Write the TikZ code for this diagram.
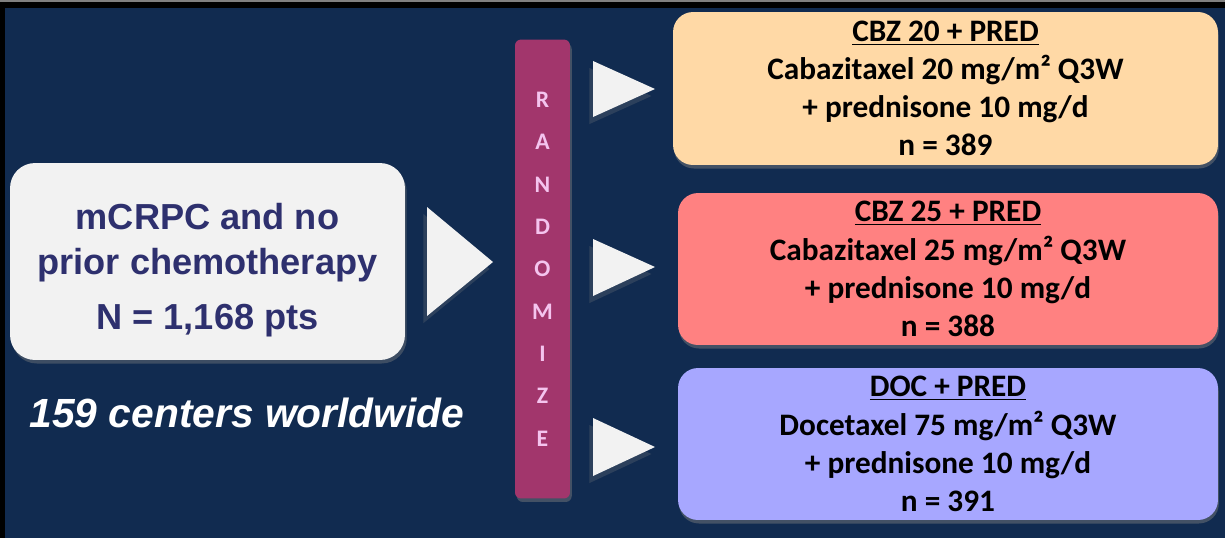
\documentclass[tikz,border=0pt]{standalone}
\usepackage{fontspec}
\setmainfont{Liberation Sans}
\newfontfamily\calib{Carlito}
\usetikzlibrary{shadows}

\definecolor{navy}{HTML}{112B50}
\definecolor{startfill}{HTML}{F2F2F2}
\definecolor{starttext}{HTML}{2E306E}
\definecolor{barfill}{HTML}{A2366C}
\definecolor{barletter}{HTML}{F4C4EE}
\definecolor{armone}{HTML}{FFD9A6}
\definecolor{armtwo}{HTML}{FF8181}
\definecolor{armthree}{HTML}{A7A7FF}

\tikzset{
  armbox/.style={rounded corners=0.4cm, minimum width=10.8cm, minimum height=3.04cm,
    align=center, font={\calib\bfseries\fontsize{17.8}{21.7}\selectfont},
    drop shadow={opacity=0.45, shadow xshift=0.5pt, shadow yshift=-2pt}},
  pointer/.style={fill=startfill,
    drop shadow={opacity=0.25, shadow xshift=-2pt, shadow yshift=-4pt}},
}

\begin{document}
\begin{tikzpicture}[x=0.02cm, y=-0.02cm]
    \useasboundingbox (0,0) rectangle (1225,538);
    \fill[black] (0,0) rectangle (1225,538);
    \fill[gray] (0,0) rectangle (1225,1.5);
    \fill[navy] (5,8) rectangle (1225,538);

    % study population
    \node[fill=startfill, rounded corners=0.5cm, minimum width=7.9cm, minimum height=3.94cm,
      drop shadow={opacity=0.4, shadow xshift=1pt, shadow yshift=-2pt}]
      (start) at (207.5,261.5) {};
    \node[align=center, text=starttext, font=\bfseries\fontsize{20.6}{25.6}\selectfont]
      (startlabel) at (207.5,270) {mCRPC and no\\prior chemotherapy\\[6pt]N = 1,168 pts};
    \node[text=white, font=\bfseries\itshape\fontsize{23.2}{28}\selectfont]
      (centers) at (247,413) {159 centers worldwide};

    % randomisation bar
    \node[fill=barfill, rounded corners=0.12cm, minimum width=1.1cm, minimum height=9.18cm,
      align=center, text=barletter, font={\calib\bfseries\fontsize{13.5}{24.1}\selectfont},
      drop shadow={opacity=0.45, shadow xshift=1pt, shadow yshift=-2pt}]
      (rand) at (542.5,269) {R\\A\\N\\D\\O\\M\\I\\Z\\E};

    % triangles
    \fill[pointer] (427,207) -- (493,262) -- (427,316) -- cycle;
    \fill[pointer] (593,61) -- (655,89) -- (593,117) -- cycle;
    \fill[pointer] (593,239) -- (655,267) -- (593,296) -- cycle;
    \fill[pointer] (593,418) -- (655,447) -- (593,476) -- cycle;

    % treatment arms
    \node[armbox, fill=armone, minimum width=10.9cm, minimum height=3.06cm] (arm1) at (945.5,88.5)
      {\underline{CBZ 20 + PRED}\\Cabazitaxel 20 mg/m² Q3W\\+ prednisone 10 mg/d\\n = 389};
    \node[armbox, fill=armtwo] (arm2) at (948,269)
      {\underline{CBZ 25 + PRED}\\Cabazitaxel 25 mg/m² Q3W\\+ prednisone 10 mg/d\\n = 388};
    \node[armbox, fill=armthree] (arm3) at (948,444)
      {\underline{DOC + PRED}\\Docetaxel 75 mg/m² Q3W\\+ prednisone 10 mg/d\\n = 391};
\end{tikzpicture}
\end{document}
